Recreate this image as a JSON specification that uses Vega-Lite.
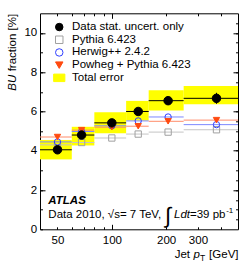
{
  "$schema": "https://vega.github.io/schema/vega-lite/v6.json",
  "width": 198,
  "height": 216,
  "autosize": {"type": "none"},
  "padding": {"left": 40, "top": 13.3, "right": 14, "bottom": 44.7},
  "background": "white",
  "config": {
    "view": {"stroke": "black", "strokeWidth": 1},
    "font": "Liberation Sans",
    "axis": {"domain": false, "grid": false, "tickColor": "black", "tickWidth": 1, "labelFont": "Liberation Sans", "labelFontSize": 11.5, "labelColor": "black", "titleFont": "Liberation Sans", "titleFontSize": 11.5, "titleColor": "black", "titleFontWeight": "normal", "labelOverlap": false, "labelFlush": false},
    "legend": {"orient": "none", "legendX": 13.5, "legendY": 8, "padding": 0, "labelFont": "Liberation Sans", "labelFontSize": 11.5, "labelColor": "black", "symbolSize": 56, "symbolStrokeWidth": 1, "rowPadding": -0.3, "labelOffset": 7}
  },
  "data": {"values": [
    {"s": "Pythia 6.423", "lo": 40, "hi": 60, "x": 50, "y": 4.3},
    {"s": "Pythia 6.423", "lo": 60, "hi": 80, "x": 68, "y": 4.42},
    {"s": "Pythia 6.423", "lo": 80, "hi": 120, "x": 100, "y": 4.65},
    {"s": "Pythia 6.423", "lo": 120, "hi": 160, "x": 140, "y": 4.85},
    {"s": "Pythia 6.423", "lo": 160, "hi": 250, "x": 205, "y": 4.95},
    {"s": "Pythia 6.423", "lo": 250, "hi": 500, "x": 380, "y": 5.07},
    {"s": "Herwig++ 2.4.2", "lo": 40, "hi": 60, "x": 50, "y": 4.45},
    {"s": "Herwig++ 2.4.2", "lo": 60, "hi": 80, "x": 68, "y": 4.98},
    {"s": "Herwig++ 2.4.2", "lo": 80, "hi": 120, "x": 100, "y": 5.27},
    {"s": "Herwig++ 2.4.2", "lo": 120, "hi": 160, "x": 140, "y": 5.52},
    {"s": "Herwig++ 2.4.2", "lo": 160, "hi": 250, "x": 205, "y": 5.72},
    {"s": "Herwig++ 2.4.2", "lo": 250, "hi": 500, "x": 380, "y": 5.33},
    {"s": "Powheg + Pythia 6.423", "lo": 40, "hi": 60, "x": 50, "y": 4.7},
    {"s": "Powheg + Pythia 6.423", "lo": 60, "hi": 80, "x": 68, "y": 5.05},
    {"s": "Powheg + Pythia 6.423", "lo": 80, "hi": 120, "x": 100, "y": 5.2},
    {"s": "Powheg + Pythia 6.423", "lo": 120, "hi": 160, "x": 140, "y": 5.25},
    {"s": "Powheg + Pythia 6.423", "lo": 160, "hi": 250, "x": 205, "y": 5.5},
    {"s": "Powheg + Pythia 6.423", "lo": 250, "hi": 500, "x": 380, "y": 5.56},
    {"s": "Data stat. uncert. only", "lo": 40, "hi": 60, "x": 50, "y": 4.05, "slo": 3.99, "shi": 4.11, "tlo": 3.56, "thi": 4.55},
    {"s": "Data stat. uncert. only", "lo": 60, "hi": 80, "x": 68, "y": 4.8, "slo": 4.73, "shi": 4.87, "tlo": 4.27, "thi": 5.22},
    {"s": "Data stat. uncert. only", "lo": 80, "hi": 120, "x": 100, "y": 5.42, "slo": 5.34, "shi": 5.5, "tlo": 4.89, "thi": 5.96},
    {"s": "Data stat. uncert. only", "lo": 120, "hi": 160, "x": 140, "y": 6.0, "slo": 5.9, "shi": 6.1, "tlo": 5.54, "thi": 6.54},
    {"s": "Data stat. uncert. only", "lo": 160, "hi": 250, "x": 205, "y": 6.55, "slo": 6.4, "shi": 6.7, "tlo": 6.05, "thi": 7.08},
    {"s": "Data stat. uncert. only", "lo": 250, "hi": 500, "x": 380, "y": 6.67, "slo": 6.39, "shi": 6.95, "tlo": 6.37, "thi": 7.3}
  ]},
  "layer": [
    {
      "transform": [{"filter": "datum.s === 'Data stat. uncert. only'"}],
      "mark": {"type": "rect", "fill": "#ffff00", "strokeWidth": 0},
      "encoding": {
        "x": {"field": "lo", "type": "quantitative", "scale": {"type": "log", "domain": [40, 500], "nice": false},
          "axis": {"orient": "bottom", "values": [50, 60, 70, 80, 90, 100, 200, 300, 400], "format": "d", "labelExpr": "(datum.value == 50 || datum.value == 100 || datum.value == 200 || datum.value == 300) ? datum.label : ''", "tickSize": -2.5, "labelPadding": 7.5, "title": "Jet", "titleX": 149.5, "titleY": 27.7, "titleAlign": "right", "titleBaseline": "alphabetic", "titleAngle": 0}},
        "x2": {"field": "hi"},
        "y": {"field": "tlo", "type": "quantitative", "scale": {"domain": [0, 11], "nice": false},
          "axis": {"orient": "left", "values": [0, 0.5, 1, 1.5, 2, 2.5, 3, 3.5, 4, 4.5, 5, 5.5, 6, 6.5, 7, 7.5, 8, 8.5, 9, 9.5, 10, 10.5], "format": "d", "labelExpr": "datum.value % 2 === 0 ? datum.label : ''", "tickSize": -2.5, "labelPadding": 5.8, "title": "BU", "titleFontStyle": "italic", "titleAngle": 270, "titleX": -24.7, "titleY": 61, "titleAlign": "right", "titleBaseline": "alphabetic"}},
        "y2": {"field": "thi"}
      }
    },
    {
      "transform": [{"filter": "datum.s !== 'Data stat. uncert. only'"}],
      "mark": {"type": "rule", "strokeWidth": 1},
      "encoding": {
        "x": {"field": "lo", "type": "quantitative", "axis": {"orient": "top", "values": [50, 60, 70, 80, 90, 100, 200, 300, 400], "tickSize": -2.5, "labels": false, "title": null}},
        "x2": {"field": "hi"},
        "y": {"field": "y", "type": "quantitative", "axis": {"orient": "right", "values": [0.5, 1, 1.5, 2, 2.5, 3, 3.5, 4, 4.5, 5, 5.5, 6, 6.5, 7, 7.5, 8, 8.5, 9, 9.5, 10, 10.5], "tickSize": -2.5, "labels": false, "title": null}},
        "stroke": {"condition": [{"test": "datum.s === 'Pythia 6.423'", "value": "#c4c4c4"}, {"test": "datum.s === 'Herwig++ 2.4.2'", "value": "#7d88ff"}], "value": "#ff8c6a"}
      }
    },
    {
      "mark": {"type": "point", "strokeWidth": 1, "opacity": 1},
      "encoding": {
        "x": {"field": "x", "type": "quantitative", "axis": {"orient": "bottom", "values": [100], "tickSize": -5, "labels": false, "title": "p", "titleFontStyle": "italic", "titleX": 153, "titleY": 27.7, "titleAlign": "left", "titleBaseline": "alphabetic"}},
        "y": {"field": "y", "type": "quantitative", "axis": {"orient": "left", "values": [2, 4, 6, 8, 10], "tickSize": -5, "labels": false, "title": "fraction [%]", "titleAngle": 270, "titleX": -24.7, "titleY": 0, "titleAlign": "right", "titleBaseline": "alphabetic"}},
        "shape": {"field": "s", "type": "nominal",
          "scale": {"domain": ["Data stat. uncert. only", "Pythia 6.423", "Herwig++ 2.4.2", "Powheg + Pythia 6.423", "Total error"], "range": ["circle", "square", "circle", "triangle-down", "M-1.5,-1H1.5V1H-1.5Z"]},
          "legend": {"title": null}},
        "fill": {"field": "s", "type": "nominal",
          "scale": {"domain": ["Data stat. uncert. only", "Pythia 6.423", "Herwig++ 2.4.2", "Powheg + Pythia 6.423", "Total error"], "range": ["#000000", "transparent", "transparent", "#ff4a10", "#ffff00"]},
          "legend": {"title": null}},
        "stroke": {"field": "s", "type": "nominal",
          "scale": {"domain": ["Data stat. uncert. only", "Pythia 6.423", "Herwig++ 2.4.2", "Powheg + Pythia 6.423", "Total error"], "range": ["#000000", "#a0a0a0", "#3040ff", "#ff4a10", "#ffff00"]},
          "legend": {"title": null}},
        "size": {"condition": {"test": "datum.s === 'Data stat. uncert. only'", "value": 72}, "value": 40}
      }
    },
    {
      "transform": [{"filter": "datum.s === 'Data stat. uncert. only'"}],
      "mark": {"type": "rule", "stroke": "black", "strokeWidth": 1},
      "encoding": {
        "x": {"field": "lo", "type": "quantitative", "axis": {"orient": "top", "values": [100], "tickSize": -5, "labels": false, "title": null}},
        "x2": {"field": "hi"},
        "y": {"field": "y", "type": "quantitative", "axis": {"orient": "right", "values": [2, 4, 6, 8, 10], "tickSize": -5, "labels": false, "title": null}}
      }
    },
    {
      "transform": [{"filter": "datum.s === 'Data stat. uncert. only'"}],
      "mark": {"type": "rule", "stroke": "black", "strokeWidth": 1},
      "encoding": {
        "x": {"field": "x", "type": "quantitative", "axis": {"orient": "bottom", "ticks": false, "labels": false, "title": "T", "titleFontSize": 8.5, "titleX": 159.5, "titleY": 30.7, "titleAlign": "left", "titleBaseline": "alphabetic"}},
        "y": {"field": "slo", "type": "quantitative", "axis": null},
        "y2": {"field": "shi"}
      }
    },
    {
      "data": {"values": [{"t": "ATLAS"}]},
      "mark": {"type": "text", "align": "left", "baseline": "alphabetic", "fontSize": 11.5, "fontWeight": "bold", "fontStyle": "italic", "fill": "black", "font": "Liberation Sans"},
      "encoding": {
        "text": {"field": "t"},
        "x": {"datum": 44.5, "type": "quantitative", "axis": {"orient": "bottom", "ticks": false, "labels": false, "title": "[GeV]", "titleX": 198, "titleY": 27.7, "titleAlign": "right", "titleBaseline": "alphabetic"}},
        "y": {"datum": 1.3, "type": "quantitative", "axis": null}
      }
    },
    {
      "data": {"values": [{"t": "Data 2010, √s= 7 TeV,"}]},
      "mark": {"type": "text", "align": "left", "baseline": "alphabetic", "fontSize": 11.5, "fill": "black", "font": "Liberation Sans"},
      "encoding": {"text": {"field": "t"}, "x": {"datum": 44.5, "type": "quantitative", "axis": null}, "y": {"datum": 0.56, "type": "quantitative", "axis": null}}
    },
    {
      "data": {"values": [{"t": "∫"}]},
      "mark": {"type": "text", "align": "left", "baseline": "alphabetic", "fontSize": 22, "fill": "black", "font": "Liberation Sans"},
      "encoding": {"text": {"field": "t"}, "x": {"datum": 197, "type": "quantitative", "axis": null}, "y": {"datum": 0.3, "type": "quantitative", "axis": null}}
    },
    {
      "data": {"values": [{"t": "Ldt"}]},
      "mark": {"type": "text", "align": "left", "baseline": "alphabetic", "fontSize": 11.5, "fontStyle": "italic", "fill": "black", "font": "Liberation Sans"},
      "encoding": {"text": {"field": "t"}, "x": {"datum": 221, "type": "quantitative", "axis": null}, "y": {"datum": 0.56, "type": "quantitative", "axis": null}}
    },
    {
      "data": {"values": [{"t": "=39 pb"}]},
      "mark": {"type": "text", "align": "left", "baseline": "alphabetic", "fontSize": 11.5, "fill": "black", "font": "Liberation Sans"},
      "encoding": {"text": {"field": "t"}, "x": {"datum": 271, "type": "quantitative", "axis": null}, "y": {"datum": 0.56, "type": "quantitative", "axis": null}}
    },
    {
      "data": {"values": [{"t": "-1"}]},
      "mark": {"type": "text", "align": "left", "baseline": "alphabetic", "fontSize": 8, "fill": "black", "font": "Liberation Sans"},
      "encoding": {"text": {"field": "t"}, "x": {"datum": 430, "type": "quantitative", "axis": null}, "y": {"datum": 0.85, "type": "quantitative", "axis": null}}
    }
  ],
  "resolve": {"axis": {"x": "independent", "y": "independent"}}
}
